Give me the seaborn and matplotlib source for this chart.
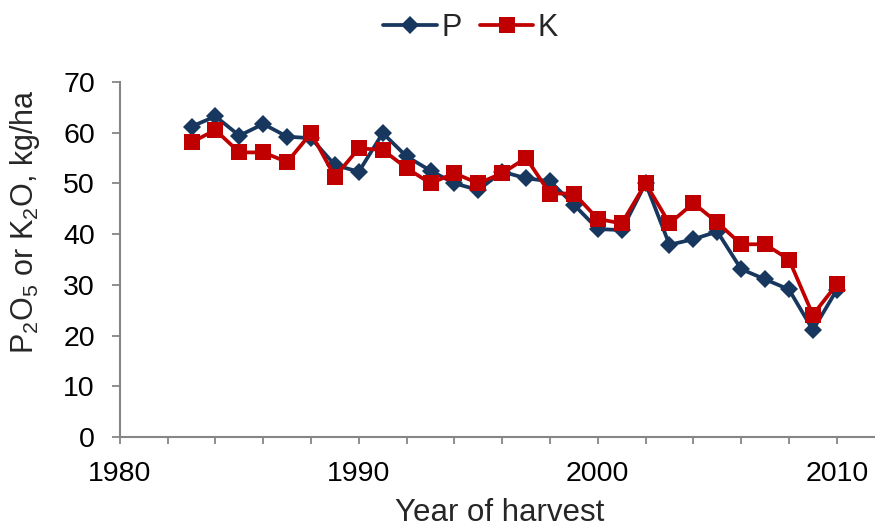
import pandas as pd
import seaborn as sns
import matplotlib.pyplot as plt
from matplotlib.ticker import MultipleLocator

years = list(range(1983, 2011))
p_vals = [61.2, 63.2, 59.4, 61.7, 59.2, 58.9, 53.6, 52.3, 59.9, 55.3, 52.5, 50.0, 48.7, 52.3,
          51.0, 50.4, 45.8, 41.0, 40.8, 50.0, 37.9, 39.0, 40.5, 33.1, 31.1, 29.1, 21.1, 29.0]
k_vals = [58.1, 60.5, 56.1, 56.1, 54.2, 59.9, 51.3, 56.9, 56.6, 53.0, 50.0, 52.0, 50.0, 52.0,
          55.0, 48.0, 48.0, 43.0, 42.1, 50.0, 42.1, 46.1, 42.3, 38.0, 38.0, 35.0, 24.1, 30.1]

df_p = pd.DataFrame({'year': years, 'value': p_vals})
df_k = pd.DataFrame({'year': years, 'value': k_vals})

sns.set_style("white")
plt.rcParams['font.family'] = ['Liberation Sans', 'DejaVu Sans']
plt.rcParams['mathtext.default'] = 'regular'

fig = plt.figure(figsize=(8.75, 5.28), dpi=100)
ax = fig.add_axes([0.137, 0.172, 0.863, 0.673])

sns.lineplot(data=df_p, x='year', y='value', color='#17375E', marker='D',
             markersize=9, markeredgewidth=0, linewidth=2.7, label='P', ax=ax)
sns.lineplot(data=df_k, x='year', y='value', color='#C00000', marker='s',
             markersize=11, markeredgewidth=0, linewidth=2.7, label='K', ax=ax)

ax.set_xlim(1980, 2011.6)
ax.set_ylim(0, 70)
ax.xaxis.set_major_locator(MultipleLocator(10))
ax.xaxis.set_minor_locator(MultipleLocator(2))
ax.yaxis.set_major_locator(MultipleLocator(10))

gray = '#868686'
for side in ['top', 'right']:
    ax.spines[side].set_visible(False)
for side in ['left', 'bottom']:
    ax.spines[side].set_color(gray)
    ax.spines[side].set_linewidth(1.5)
ax.tick_params(axis='both', which='both', direction='out', color=gray, width=1.3,
               labelsize=20.5, labelcolor='black', bottom=True, left=True)
ax.tick_params(axis='x', which='both', length=5)
ax.tick_params(axis='x', which='major', pad=12)
ax.tick_params(axis='y', which='major', length=6, pad=12)

ax.set_xlabel('Year of harvest', fontsize=22.5)
ax.xaxis.set_label_coords(0.503, -0.172)
ax.set_ylabel('P$_2$O$_5$ or K$_2$O, kg/ha', fontsize=22)
ax.yaxis.set_label_coords(-0.103, 0.608)

handles, labels = ax.get_legend_handles_labels()
ax.legend(handles, labels, loc='center', bbox_to_anchor=(0.538, 0.947),
          bbox_transform=fig.transFigure, ncol=2, frameon=False, fontsize=22,
          handlelength=1.75, handletextpad=0.15, columnspacing=0.6,
          borderpad=0, borderaxespad=0)

plt.savefig('out.png', dpi=100)
